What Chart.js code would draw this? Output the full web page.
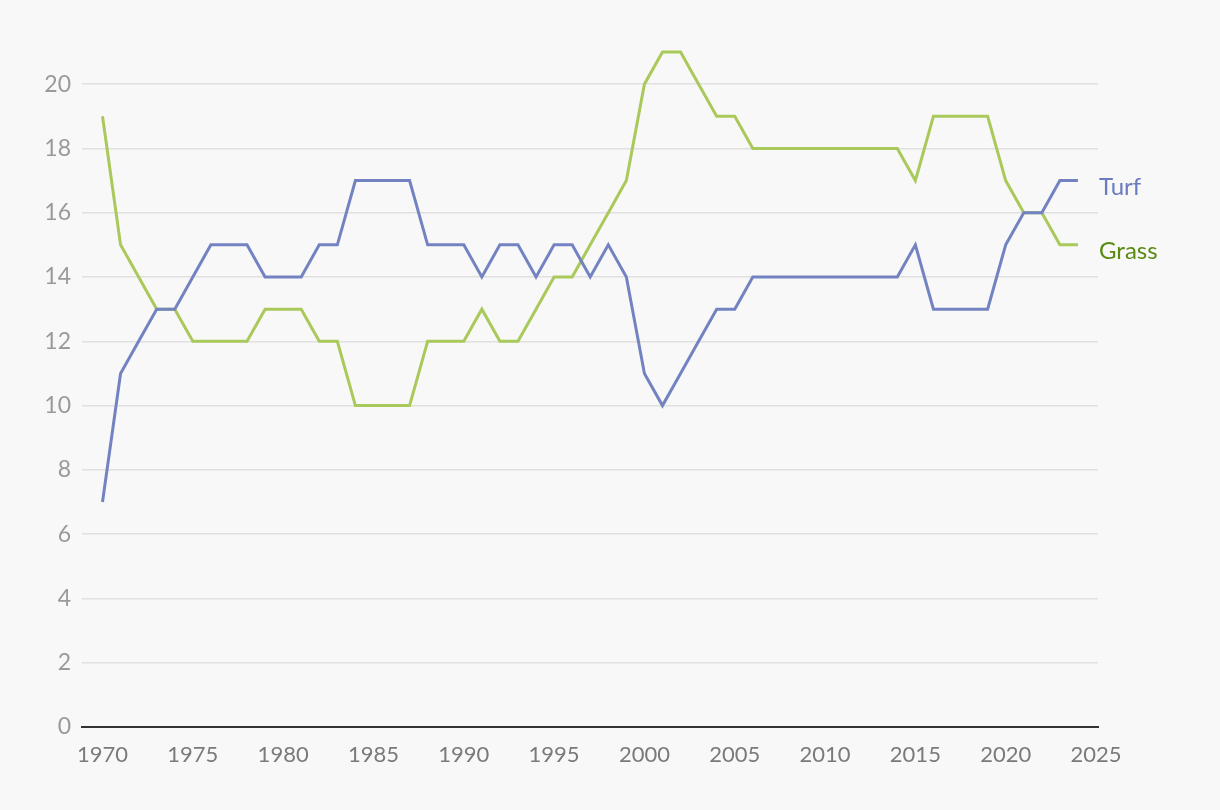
<!DOCTYPE html>
<html><head><meta charset="utf-8">
<script src="https://cdn.jsdelivr.net/npm/chart.js@4.4.1/dist/chart.umd.min.js"></script>
<style>html,body{margin:0;padding:0;background:#f8f8f8;}#wrap{width:1220px;height:810px;position:relative;}</style>
</head><body><div id="wrap"><canvas id="c" width="1220" height="810"></canvas></div>
<script>
const years = [1970,1971,1972,1973,1974,1975,1976,1977,1978,1979,1980,1981,1982,1983,1984,1985,1986,1987,1988,1989,1990,1991,1992,1993,1994,1995,1996,1997,1998,1999,2000,2001,2002,2003,2004,2005,2006,2007,2008,2009,2010,2011,2012,2013,2014,2015,2016,2017,2018,2019,2020,2021,2022,2023,2024];
const turf = [7,11,12,13,13,14,15,15,15,14,14,14,15,15,17,17,17,17,15,15,15,14,15,15,14,15,15,14,15,14,11,10,11,12,13,13,14,14,14,14,14,14,14,14,14,15,13,13,13,13,15,16,16,17,17];
const grass = [19,15,14,13,13,12,12,12,12,13,13,13,12,12,10,10,10,10,12,12,12,13,12,12,13,14,14,15,16,17,20,21,21,20,19,19,18,18,18,18,18,18,18,18,18,17,19,19,19,19,17,16,16,15,15];
const xTicks = [1970,1975,1980,1985,1990,1995,2000,2005,2010,2015,2020,2025];
const yTicks = [0,2,4,6,8,10,12,14,16,18,20];
const seriesNames = ['Turf','Grass'];
const lineColors = ['#7383c2','#a9c95a'];
const labelColors = ['#6a7bc0','#5b8a12'];

const endLabels = {
  id:'endLabels',
  afterDatasetsDraw(chart){
    const ctx = chart.ctx;
    ctx.save();
    ctx.font = '24px Lato';
    ctx.textBaseline = 'alphabetic';
    ctx.textAlign = 'left';
    chart.data.datasets.forEach((ds,i)=>{
      const meta = chart.getDatasetMeta(i);
      const pt = meta.data[meta.data.length-1];
      ctx.fillStyle = labelColors[i];
      ctx.fillText(ds.label, chart.chartArea.right + 1, pt.y + 14);
    });
    ctx.restore();
  }
};

new Chart(document.getElementById('c'), {
  type:'line',
  data:{
    datasets:[
      {label:seriesNames[0], data:years.map((y,i)=>({x:y,y:turf[i]})), borderColor:lineColors[0], borderWidth:3, pointRadius:0, tension:0, clip:false},
      {label:seriesNames[1], data:years.map((y,i)=>({x:y,y:grass[i]})), borderColor:lineColors[1], borderWidth:3, pointRadius:0, tension:0, clip:false}
    ]
  },
  options:{
    responsive:false, animation:false,
    layout:{padding:{left:0,right:122,top:52,bottom:0}},
    plugins:{legend:{display:false},tooltip:{enabled:false}},
    scales:{
      x:{type:'linear', min:1968.865, max:2025.11,
        afterBuildTicks(s){ s.ticks = xTicks.map(v=>({value:v})); },
        afterFit(s){ s.height = 83; },
        grid:{display:false, drawTicks:false},
        border:{display:true,color:'#333',width:2},
        ticks:{color:'#7a7a7a', font:{family:'Lato',size:22}, padding:15, maxRotation:0, autoSkip:false, callback:v=>String(v)}
      },
      y:{min:0,max:21,
        afterBuildTicks(s){ s.ticks = yTicks.map(v=>({value:v})); },
        afterFit(s){ s.width = 82; },
        grid:{color:'#e0e0e0', lineWidth:1.5, drawTicks:false},
        border:{display:false},
        ticks:{color:'#9a9a9a', font:{family:'Lato',size:23}, padding:11}
      }
    }
  },
  plugins:[endLabels]
});
</script></body></html>
